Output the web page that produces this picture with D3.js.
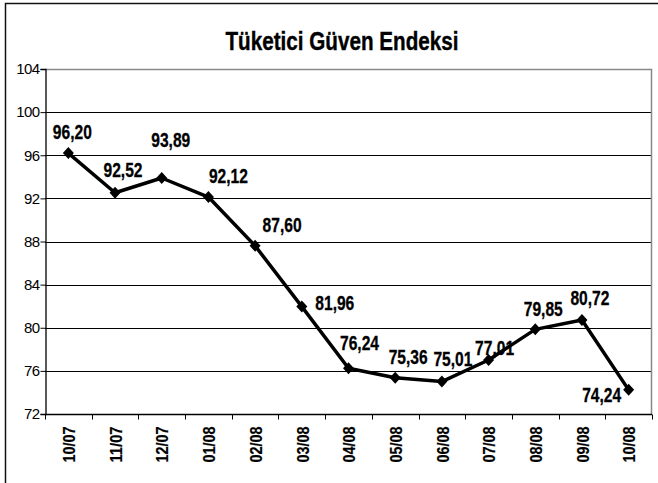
<!DOCTYPE html>
<html>
<head>
<meta charset="utf-8">
<script src="https://cdn.jsdelivr.net/npm/d3@7"></script>
<style>
  html, body { margin: 0; padding: 0; background: #fff; }
  svg { display: block; }
  text { font-family: "Liberation Sans", Arial, sans-serif; }
</style>
</head>
<body>
<svg id="chart" width="658" height="483"></svg>
<script>
const title = "Tüketici Güven Endeksi";
const categories = ["10/07","11/07","12/07","01/08","02/08","03/08","04/08","05/08","06/08","07/08","08/08","09/08","10/08"];
const values = [96.20, 92.52, 93.89, 92.12, 87.60, 81.96, 76.24, 75.36, 75.01, 77.01, 79.85, 80.72, 74.24];
const yTicks = [72, 76, 80, 84, 88, 92, 96, 100, 104];
// label placement offsets [dx, dy] relative to each point (layout only)
const labelOffsets = [[4,-14],[8,-16],[9,-31],[20,-14],[27,-14],[33,3],[11,-18],[13,-14],[11,-16],[6,-5],[8,-13],[8,-15],[-27,12]];

const W = 658, H = 483;
const margin = {left: 45, top: 69, right: 6, bottom: 69};
const svg = d3.select("#chart");

const fmt = v => v.toFixed(2).replace(".", ",");

// squeeze text (glyphs + spacing) to a given width
function fitWidth(sel, target) {
  sel.attr("textLength", target).attr("lengthAdjust", "spacingAndGlyphs");
}

// outer chart border
svg.append("rect")
  .attr("x", 5.5).attr("y", 3.5).attr("width", 700).attr("height", 600)
  .attr("fill", "#fff").attr("stroke", "#111").attr("stroke-width", 1.5);

const x = d3.scaleBand().domain(categories).range([margin.left, W - margin.right]);
const y = d3.scaleLinear().domain([72, 104]).range([H - margin.bottom, margin.top]);
const x0 = x.range()[0], x1 = x.range()[1];

// title
const t = svg.append("text")
  .attr("x", 342).attr("y", 50)
  .attr("text-anchor", "middle")
  .attr("font-size", 26).attr("font-weight", "bold").attr("fill", "#000")
  .attr("stroke", "#000").attr("stroke-width", 0.4)
  .text(title);
fitWidth(t, 233);

// gridlines
svg.append("g").selectAll("line")
  .data(yTicks.filter(v => v > 72 && v < 104))
  .join("line")
  .attr("x1", x0).attr("x2", x1)
  .attr("y1", d => Math.round(y(d)) + 0.5).attr("y2", d => Math.round(y(d)) + 0.5)
  .attr("stroke", "#000").attr("stroke-width", 1);

// plot border top & right (gray)
svg.append("path")
  .attr("d", `M${x0},${Math.round(y(104)) + 0.5}H${x1 - 0.5}V${Math.round(y(72))}`)
  .attr("fill", "none").attr("stroke", "#888").attr("stroke-width", 1.5);

// y axis
const yAxis = svg.append("g")
  .attr("transform", `translate(${x0 + 0.5},0)`)
  .call(d3.axisLeft(y).tickValues(yTicks).tickSize(5).tickPadding(1).tickFormat(d3.format("d")));
yAxis.select(".domain").attr("stroke", "#000").attr("stroke-width", 1.3);
yAxis.selectAll(".tick line").attr("stroke", "#000");
yAxis.selectAll(".tick text")
  .attr("font-family", "'Liberation Sans', Arial, sans-serif")
  .attr("font-size", 15).attr("letter-spacing", -0.6).attr("fill", "#000");

// x axis line + boundary ticks
const yBase = Math.round(y(72)) + 0.5;
svg.append("line")
  .attr("x1", x0).attr("x2", x1).attr("y1", yBase).attr("y2", yBase)
  .attr("stroke", "#000").attr("stroke-width", 1.3);
svg.append("g").selectAll("line")
  .data(categories.map(c => x(c)).concat([x1]))
  .join("line")
  .attr("x1", d => Math.round(d) + 0.5).attr("x2", d => Math.round(d) + 0.5)
  .attr("y1", yBase).attr("y2", yBase + 5)
  .attr("stroke", "#000").attr("stroke-width", 1);

// x labels
const xl = svg.append("g").selectAll("text")
  .data(categories)
  .join("text")
  .attr("transform", d => `translate(${x(d) + x.bandwidth() / 2 + 1},${yBase + 12}) rotate(-90)`)
  .attr("text-anchor", "end").attr("dy", "0.36em")
  .attr("font-size", 16).attr("font-weight", "bold").attr("fill", "#000")
  .attr("stroke", "#000").attr("stroke-width", 0.2)
  .text(d => d);
fitWidth(xl, 36);

// line
const pts = categories.map((c, i) => [x(c) + x.bandwidth() / 2, y(values[i])]);
svg.append("path")
  .attr("d", d3.line()(pts))
  .attr("fill", "none").attr("stroke", "#000").attr("stroke-width", 3.5)
  .attr("stroke-linejoin", "round");

// markers
svg.append("g").selectAll("path")
  .data(pts)
  .join("path")
  .attr("transform", d => `translate(${d[0]},${d[1]})`)
  .attr("d", "M0,-6L5.5,0L0,6L-5.5,0Z")
  .attr("fill", "#000");

// data labels
const dl = svg.append("g").selectAll("text")
  .data(values)
  .join("text")
  .attr("x", (d, i) => pts[i][0] + labelOffsets[i][0])
  .attr("y", (d, i) => pts[i][1] + labelOffsets[i][1])
  .attr("text-anchor", "middle")
  .attr("font-size", 20).attr("font-weight", "bold").attr("fill", "#000")
  .attr("stroke", "#000").attr("stroke-width", 0.3)
  .text(d => fmt(d));
fitWidth(dl, 39);
</script>
</body>
</html>
